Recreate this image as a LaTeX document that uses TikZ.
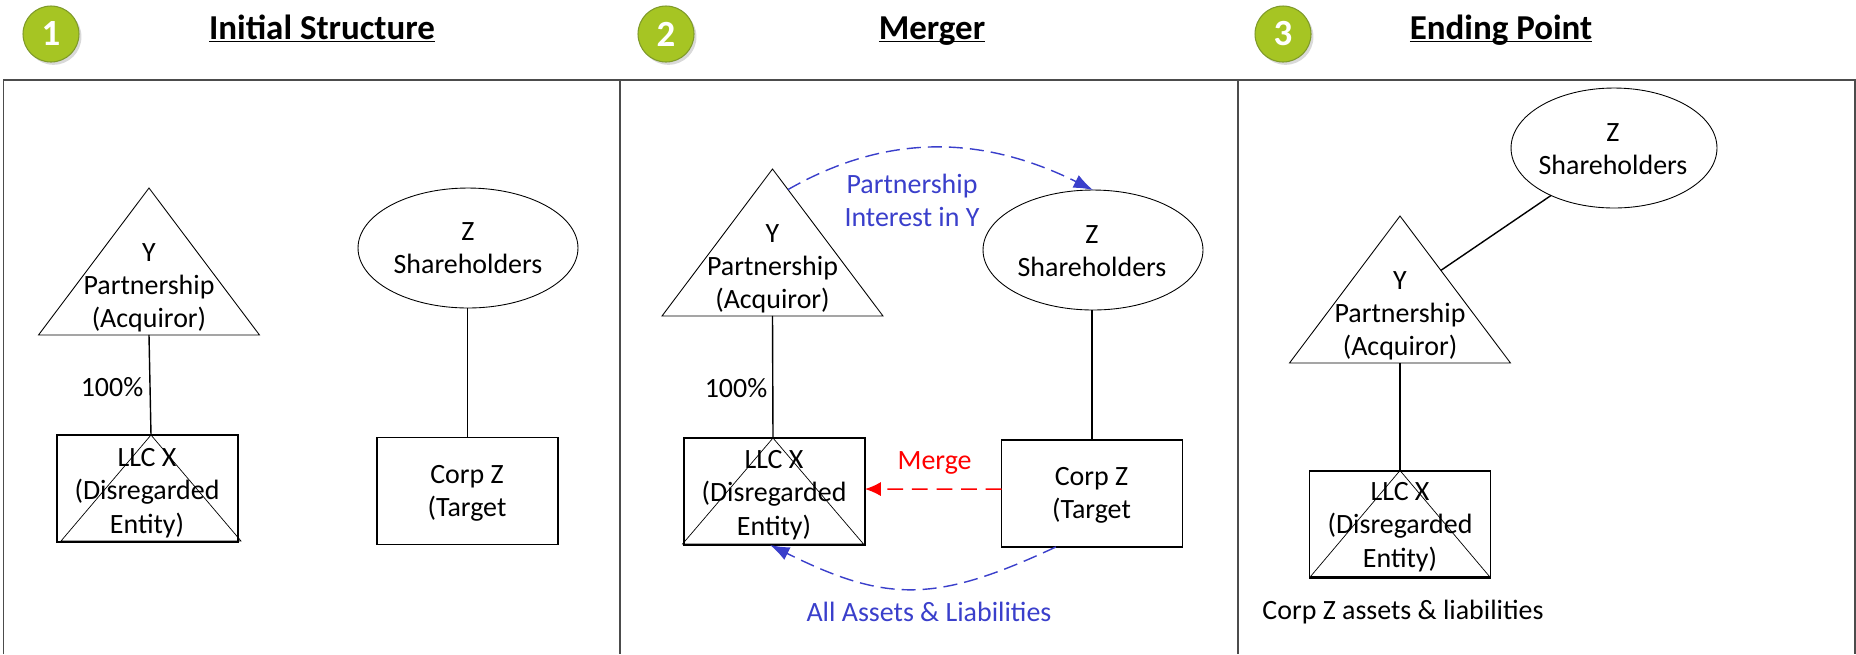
\documentclass[tikz,border=0pt]{standalone}
\usepackage{fontspec}
\setmainfont{Carlito}
\usetikzlibrary{arrows.meta,shapes.geometric,shadows,calc}
\definecolor{badgegreen}{HTML}{A6C523}
\definecolor{badgeline}{HTML}{7F9A2A}
\definecolor{arcblue}{HTML}{3A3FCB}
\tikzset{
  txt/.style={align=center,inner sep=0pt,font=\fontsize{15.9}{18.9}\selectfont},
  titletxt/.style={inner sep=0pt,anchor=base,font=\fontsize{19.9}{24}\selectfont\bfseries},
  badge/.style={circle,minimum size=1.12cm,inner sep=0pt,fill=badgegreen,draw=badgeline,line width=.6pt,text=white,
    font=\fontsize{21}{24}\selectfont\bfseries,drop shadow={shadow xshift=1.4pt,shadow yshift=-1.6pt,opacity=.3}},
  tri/.style={isosceles triangle,isosceles triangle stretches,shape border rotate=90,draw,line width=.5pt,
    inner sep=0pt,outer sep=0pt,minimum width=4.42cm,minimum height=2.94cm,anchor=apex},
  smalltri/.style={tri,line width=.4pt,minimum width=3.6cm,minimum height=2.12cm},
  holders/.style={ellipse,draw,line width=.5pt,inner sep=0pt,outer sep=0pt,minimum width=4.4cm,minimum height=2.4cm},
  entity/.style={rectangle,draw,line width=.95pt,inner sep=0pt,outer sep=0pt,minimum width=3.62cm,minimum height=2.14cm},
  link/.style={line width=.8pt},
  flow/.style={line width=.8pt,arcblue,dash pattern=on 8pt off 4pt,-{Latex[length=11pt,width=8pt]}},
}
\begin{document}
\begin{tikzpicture}[x=.02cm,y=-.02cm]
  \useasboundingbox (0,0) rectangle (1856,654);
  % panels
  \draw[line width=.9pt,black!70] (3.5,654) -- (3.5,80) -- (1855,80) -- (1855,654);
  \draw[line width=.9pt,black!70] (620,80) -- (620,654);
  \draw[line width=.9pt,black!70] (1238,80) -- (1238,654);
  % headings
  \foreach \num/\bx/\tx/\head in {1/51/322/Initial Structure,2/666/932/Merger,3/1283/1501/Ending Point}{
    \node[badge] (badge\num) at (\bx,34) {\num};
    \node[titletxt] (title\num) at (\tx,39) {\underline{\smash{\head}}};
  }

  % Initial Structure
  \node[tri] (Ytri1) at (149,188) {};
  \node[txt] (Ytxt1) at (149,288) {Y\\Partnership\\(Acquiror)};
  \node[holders] (Zsh1) at (468,248) {};
  \node[txt] (Ztxt1) at (468,248) {Z\\Shareholders};
  \node[entity] (LLC1) at (147.5,488.5) {};
  \node[txt] (LLCtxt1) at (147,493) {LLC X\\(Disregarded\\Entity)};
  \node[smalltri] (Xtri1) at (151,435) {};
  \node[entity] (Corp1) at (467.5,491) {};
  \node[txt] (Corptxt1) at (467,493) {Corp Z\\(Target};
  \node[txt] (pct1) at (112,387) {100\%};
  \draw[link] (Ytri1.lower side) -- (Xtri1.apex);
  \draw[link] (Corp1.north |- Zsh1.south) -- (Corp1.north);

  % Merger
  \node[tri] (Ytri2) at (772.5,169) {};
  \node[txt] (Ytxt2) at (772.5,269) {Y\\Partnership\\(Acquiror)};
  \node[holders] (Zsh2) at (1093,250) {};
  \node[txt] (Ztxt2) at (1092,251) {Z\\Shareholders};
  \node[entity] (LLC2) at (774.5,491.5) {};
  \node[txt] (LLCtxt2) at (774,495) {LLC X\\(Disregarded\\Entity)};
  \node[smalltri,minimum width=3.62cm] (Xtri2) at (773,438) {};
  \node[entity] (Corp2) at (1092,493.5) {};
  \node[txt] (Corptxt2) at (1091.5,495) {Corp Z\\(Target};
  \node[txt] (pct2) at (736,388) {100\%};
  \node[txt,text=arcblue] (intY) at (912,200) {Partnership\\Interest in Y};
  \node[txt,text=red] (mergetxt) at (934.6,463) {Merge};
  \node[txt,text=arcblue] (assets) at (929,612) {All Assets \& Liabilities};
  \draw[link] (Ytri2.lower side) -- (Xtri2.apex);
  \draw[link] (Corp2.north |- Zsh2.south) -- (Corp2.north);
  \coordinate (arcstart) at ($(Ytri2.apex)!.14!(Ytri2.right corner)$);
  \draw[flow] (arcstart) .. controls (885,134) and (980,134) .. (Zsh2.north);
  \draw[line width=.8pt,red,dash pattern=on 9pt off 5pt,-{Latex[length=9pt,width=8pt]}]
    ([yshift=2.5pt]Corp2.west) -- ([yshift=1.4pt]LLC2.east);
  \coordinate (arcleave) at ($(Corp2.south west)!.6!(Corp2.south)$);
  \draw[flow] (arcleave) .. controls (936,603) and (887,603) .. ([xshift=-2.5pt]LLC2.south);

  % Ending Point
  \node[tri] (Ytri3) at (1400,216) {};
  \node[txt] (Ytxt3) at (1400,316) {Y\\Partnership\\(Acquiror)};
  \node[holders,minimum width=4.12cm] (Zsh3) at (1614,148) {};
  \node[txt] (Ztxt3) at (1613,149) {Z\\Shareholders};
  \node[entity] (LLC3) at (1400,524.5) {};
  \node[txt] (LLCtxt3) at (1400,527) {LLC X\\(Disregarded\\Entity)};
  \node[smalltri,minimum width=3.58cm] (Xtri3) at (1400,470.5) {};
  \node[txt] (leftover) at (1403,612) {Corp Z assets \& liabilities};
  \coordinate (sidept) at ($(Ytri3.apex)!.37!(Ytri3.right corner)$);
  \draw[link] (Zsh3.217) -- (sidept);
  \draw[link] (Ytri3.lower side) -- (Xtri3.apex);
\end{tikzpicture}
\end{document}
